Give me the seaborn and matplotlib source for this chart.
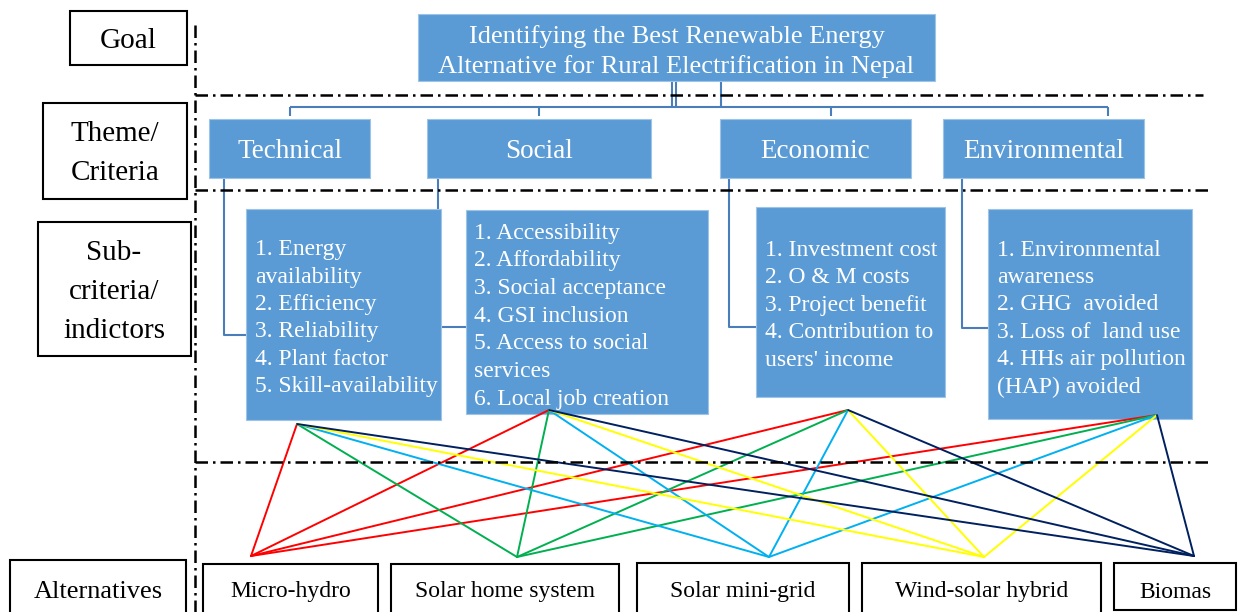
import pandas as pd
import matplotlib.pyplot as plt
from matplotlib.patches import Rectangle
import seaborn as sns

# ============================
# Content of the hierarchy
# ============================

goal_lines = ["Identifying the Best Renewable Energy",
              "Alternative for Rural Electrification in Nepal"]
level_labels = [["Goal"], ["Theme/", "Criteria"], ["Sub-", "criteria/", "indictors"], ["Alternatives"]]
criteria = ["Technical", "Social", "Economic", "Environmental"]
technical_items = ["1. Energy", "availability", "2. Efficiency", "3. Reliability",
                   "4. Plant factor", "5. Skill-availability"]
social_items = ["1. Accessibility", "2. Affordability", "3. Social acceptance",
                "4. GSI inclusion", "5. Access to social", "services",
                "6. Local job creation"]
economic_items = ["1. Investment cost", "2. O & M costs", "3. Project benefit",
                  "4. Contribution to", "users' income"]
environmental_items = ["1. Environmental", "awareness", "2. GHG  avoided",
                       "3. Loss of  land use", "4. HHs air pollution", "(HAP) avoided"]
alternatives = ["Micro-hydro", "Solar home system", "Solar mini-grid",
                "Wind-solar hybrid", "Biomas"]
alt_colors = ["#FF0000", "#00B050", "#00B0F0", "#FFFF00", "#002060"]

# ============================
# Layout (pixel space, y pointing down)
# ============================

BLUE = "#5B9BD5"
LINK = "#4A7EBB"

goal_box = (418, 14, 935, 81)
level_boxes = [(70, 11, 187, 65), (43, 103, 187, 199), (38, 222, 191, 356), (10, 560, 186, 630)]
level_text_xy = [(128, 41), (115, 134), (114, 253), (98, 592)]
criteria_boxes = [(209, 119, 370, 178), (427, 119, 651, 178),
                  (720, 119, 911, 178), (943, 119, 1144, 178)]
sub_boxes = [(246, 209, 441, 420), (466, 210, 708, 414),
             (756, 207, 945, 397), (988, 209, 1192, 419)]
sub_text_start = [(255, 250, 27.3), (474, 233, 27.7), (765, 250, 27.5), (997, 250, 27.4)]
alt_boxes = [(203, 564, 378, 630), (391, 564, 619, 630), (637, 563, 849, 630),
             (862, 563, 1101, 630), (1114, 563, 1236, 610)]
top_nodes = [(297, 424), (549, 410), (848, 410), (1157, 415)]
bottom_nodes = [(251, 556), (517, 557), (769, 557), (984, 557), (1194, 556)]


def box(ax, rect, face, edge, lw, z=2):
    x0, y0, x1, y1 = rect
    ax.add_patch(Rectangle((x0, y0), x1 - x0, y1 - y0, facecolor=face,
                           edgecolor=edge, linewidth=lw, zorder=z))


def main():
    sns.set_theme(style="white")
    plt.rcParams['font.family'] = ['Liberation Serif', 'DejaVu Serif']

    fig = plt.figure(figsize=(12.39, 6.12), dpi=100)
    ax = fig.add_axes([0, 0, 1, 1])

    # level labels on the left
    for rect, (tx, ty), lines in zip(level_boxes, level_text_xy, level_labels):
        box(ax, rect, "white", "black", 1.5)
        size = 19 if lines[0] == "Alternatives" else 21
        for i, line in enumerate(lines):
            ax.text(tx, ty + 39 * i, line, ha="center", va="center", fontsize=size,
                    color="black", zorder=3)

    # dash-dot separators
    dashdot = dict(color="black", lw=1.8, linestyle=(0, (5, 2, 1, 2)), zorder=4)
    ax.plot([195, 195], [25, 612], **dashdot)
    ax.plot([195, 1203], [95, 95], **dashdot)
    ax.plot([195, 1212], [190, 190], **dashdot)
    ax.plot([195, 1212], [462, 462], **dashdot)

    # goal box
    box(ax, goal_box, BLUE, "#9DC3E6", 0.8)
    gx = (goal_box[0] + goal_box[2]) / 2
    for i, line in enumerate(goal_lines):
        ax.text(gx, 37 + 30 * i, line, ha="center", va="center",
                fontsize=19, color="white", zorder=3)

    # tree connectors goal -> criteria
    link = dict(color=LINK, lw=1.5, zorder=1, solid_capstyle="butt")
    for vx in [672, 676, 721]:
        ax.plot([vx, vx], [81, 107], **link)
    ax.plot([290, 1108], [107, 107], **link)
    for dx in [290, 539, 831, 1108]:
        ax.plot([dx, dx], [107, 116], **link)

    # criteria -> sub-criteria elbows (partly hidden behind boxes)
    for vx, hy, x_end in [(224, 335, 246), (438, 327, 466), (729, 327, 756), (962, 328, 988)]:
        ax.plot([vx, vx, x_end], [178, hy, hy], **link)

    for rect, name in zip(criteria_boxes, criteria):
        box(ax, rect, BLUE, "#9DC3E6", 0.8)
        ax.text((rect[0] + rect[2]) / 2, 152, name, ha="center", va="center",
                fontsize=19.5, color="white", zorder=3)

    # sub-criteria boxes
    item_lists = [technical_items, social_items, economic_items, environmental_items]
    for rect, (sx, sy, step), items in zip(sub_boxes, sub_text_start, item_lists):
        box(ax, rect, BLUE, "#9DC3E6", 0.8)
        for i, item in enumerate(items):
            ax.text(sx, sy + step * i, item, ha="left", va="center",
                    fontsize=17, color="white", zorder=3)

    # network of sub-criteria -> alternatives
    rows = []
    for i, (tx, ty) in enumerate(top_nodes):
        for j, (bx, by) in enumerate(bottom_nodes):
            rows.append({"edge": f"{i}-{j}", "alt": alternatives[j], "x": tx, "y": ty})
            rows.append({"edge": f"{i}-{j}", "alt": alternatives[j], "x": bx, "y": by})
    edges = pd.DataFrame(rows)
    sns.lineplot(data=edges, x="x", y="y", hue="alt", units="edge", estimator=None,
                 sort=False, palette=dict(zip(alternatives, alt_colors)),
                 legend=False, lw=1.4, ax=ax, zorder=2)

    # alternatives
    for rect, name in zip(alt_boxes, alternatives):
        box(ax, rect, "white", "black", 1.5)
        ax.text((rect[0] + rect[2]) / 2, 592, name, ha="center", va="center",
                fontsize=17, color="black", zorder=3)

    ax.set_xlim(0, 1239)
    ax.set_ylim(612, 0)
    ax.axis("off")

    fig.savefig("out.png", dpi=100)
    plt.close(fig)


if __name__ == "__main__":
    main()
